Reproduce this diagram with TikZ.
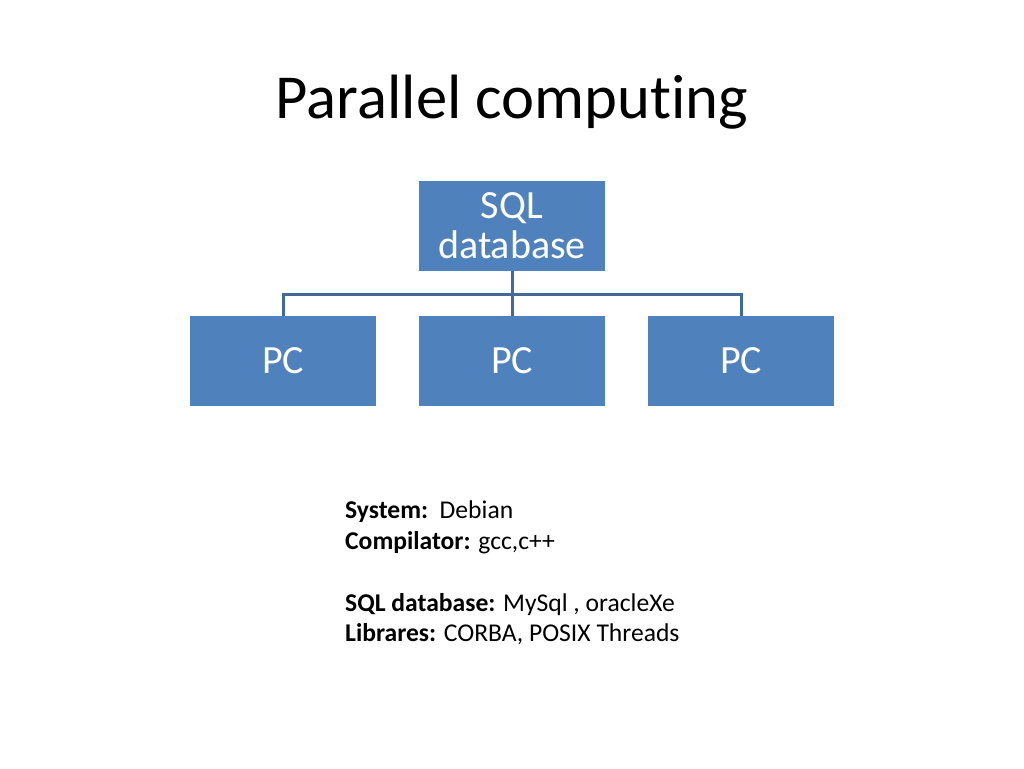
\documentclass[tikz,border=0pt]{standalone}
\usepackage{fontspec}
\setmainfont{Carlito}[RawFeature=-liga]
\definecolor{boxblue}{HTML}{4F81BD}
\definecolor{lineblue}{HTML}{41699A}
\begin{document}
\begin{tikzpicture}[x=1pt,y=-1pt,
  box/.style={fill=boxblue,draw=none,minimum width=186pt,minimum height=90pt,inner sep=0pt},
  boxtext/.style={anchor=base,inner sep=0pt,text=white,font=\fontsize{40}{36}\selectfont},
  conn/.style={draw=lineblue,line width=3pt},
  body/.style={anchor=base west,inner sep=0pt,font=\fontsize{25.6}{30}\selectfont}]
\useasboundingbox (0,0) rectangle (1024,768);
\fill[white] (0,0) rectangle (1024,768);
\node[anchor=base,inner sep=0pt,font=\fontsize{62.6}{70}\selectfont] (title) at (512,118) {Parallel computing};
\node[box] (sql) at (512,226) {};
\node[boxtext] (sqlA) at (512,218) {SQL};
\node[boxtext] (sqlB) at (512,258) {database};
\node[box] (pc1) at (283,361) {};
\node[box] (pc2) at (512,361) {};
\node[box] (pc3) at (741,361) {};
\node[boxtext] (t1) at (283,373) {PC};
\node[boxtext] (t2) at (512,373) {PC};
\node[boxtext] (t3) at (741,373) {PC};
\coordinate (hub) at (512,294);
\draw[conn] (sql.south) -- (hub);
\draw[conn] (hub) -| (pc1.north);
\draw[conn] (hub) -- (pc2.north);
\draw[conn] (hub) -| (pc3.north);
\node[body] (l1) at (345,518) {\textbf{System:}\ \ Debian};
\node[body] (l2) at (345,549) {\textbf{Compilator:} gcc,c++};
\node[body] (l3) at (345,611) {\textbf{SQL database:} MySql , oracleXe};
\node[body] (l4) at (345,641) {\textbf{Librares:} CORBA, POSIX Threads};
\end{tikzpicture}
\end{document}
